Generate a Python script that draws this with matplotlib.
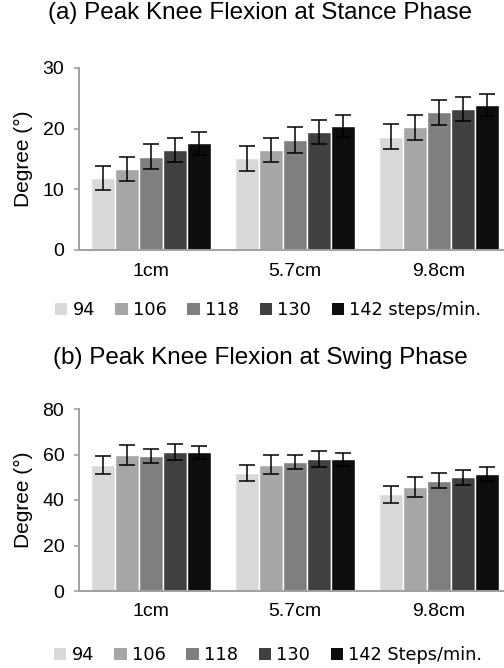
import numpy as np
import matplotlib.pyplot as plt
from matplotlib.patches import Patch

heights = ['1cm', '5.7cm', '9.8cm']
cadences = ['94', '106', '118', '130', '142']
colors = ['#d9d9d9', '#a6a6a6', '#7f7f7f', '#404040', '#0d0d0d']

# (a) stance phase, rows = cadence, cols = step height
stance = [[11.9, 15.1, 18.7],
          [13.4, 16.5, 20.2],
          [15.4, 18.1, 22.7],
          [16.5, 19.4, 23.2],
          [17.6, 20.4, 23.9]]
stance_err = [[2.0, 2.0, 2.0],
              [2.0, 2.0, 2.0],
              [2.1, 2.1, 2.1],
              [2.0, 2.0, 2.0],
              [1.9, 1.8, 1.8]]

# (b) swing phase
swing = [[55.4, 51.9, 42.6],
         [59.9, 55.6, 45.6],
         [59.3, 56.8, 48.5],
         [61.2, 58.1, 49.9],
         [61.0, 57.9, 51.3]]
swing_err = [[3.9, 3.7, 3.7],
             [4.4, 4.3, 4.3],
             [3.2, 3.2, 3.2],
             [3.5, 3.5, 3.4],
             [2.9, 2.8, 3.0]]

W, H = 504, 668
fig = plt.figure(figsize=(W/100, H/100), dpi=100)
font = 'Liberation Sans'
spine_c = '#a0a0a0'


def panel(rect, vals, errs, ymax, ystep, title, title_y, leg_label, leg_y):
    ax = fig.add_axes(rect)
    x = np.arange(len(heights))
    w = 0.168
    for i in range(len(cadences)):
        ax.bar(x + (i - 2) * w, vals[i], w, color=colors[i], edgecolor='white',
               linewidth=1.0, zorder=2)
        ax.errorbar(x + (i - 2) * w, vals[i], yerr=errs[i], fmt='none',
                    ecolor='black', elinewidth=1.1, capsize=6, capthick=1.1, zorder=3)
    ax.set_xlim(-0.5, 2.5)
    ax.set_ylim(0, ymax)
    ax.set_yticks(np.arange(0, ymax + 1, ystep))
    ax.set_xticks(x)
    ax.set_xticklabels(heights, fontsize=14, family=font)
    for lab in ax.get_yticklabels():
        lab.set_fontsize(14)
        lab.set_family(font)
    ax.tick_params(axis='x', length=0, pad=9)
    ax.tick_params(axis='y', length=3.6, color=spine_c, width=1.2, pad=7)
    for s in ['top', 'right']:
        ax.spines[s].set_visible(False)
    for s in ['left', 'bottom']:
        ax.spines[s].set_color(spine_c)
        ax.spines[s].set_linewidth(1.4)
    ax.set_ylabel('Degree (°)', fontsize=15, family=font, labelpad=7)
    fig.text(260/W, 1 - title_y/H, title, fontsize=17.5, family=font,
             ha='center', va='center')
    handles = [Patch(facecolor=c, edgecolor='none') for c in colors]
    labels = cadences[:-1] + [cadences[-1] + ' ' + leg_label]
    fig.legend(handles, labels, loc='center', bbox_to_anchor=(268/W, 1 - leg_y/H),
               ncol=5, frameon=False, prop={'family': 'DejaVu Sans', 'size': 12.8},
               handlelength=0.7, handleheight=0.7, handletextpad=0.3,
               columnspacing=1.15, borderpad=0)
    return ax


panel([79/W, 418/H, 432/W, 182/H], stance, stance_err, 30, 10,
      '(a) Peak Knee Flexion at Stance Phase', 13, 'steps/min.', 310)
panel([79/W, 77/H, 432/W, 182/H], swing, swing_err, 80, 20,
      '(b) Peak Knee Flexion at Swing Phase', 358, 'Steps/min.', 655)

fig.savefig('out.png', dpi=100, facecolor='white')
